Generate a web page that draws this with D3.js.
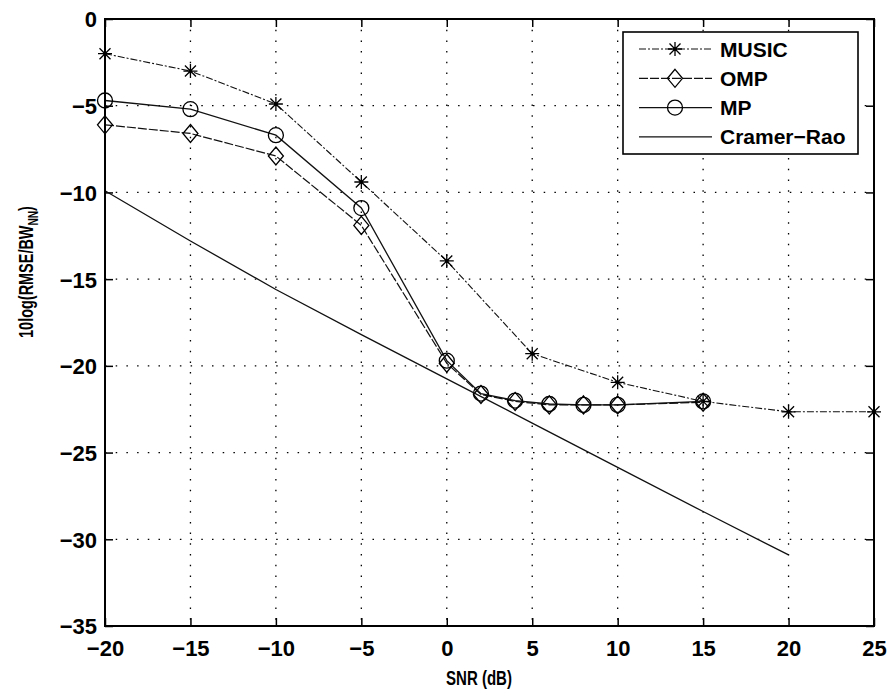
<!DOCTYPE html>
<html>
<head>
<meta charset="utf-8">
<script src="https://cdn.jsdelivr.net/npm/d3@7"></script>
<style>
  html, body { margin: 0; padding: 0; background: #fff; }
  svg text { font-family: "Liberation Sans", Arial, Helvetica, sans-serif; fill: #000; }
</style>
</head>
<body>
<svg id="chart" width="891" height="692"></svg>
<script>
// SNR sweep points (dB)
const snrMusic  = [-20, -15, -10, -5, 0, 5, 10, 15, 20, 25];
const snrSparse = [-20, -15, -10, -5, 0, 2, 4, 6, 8, 10, 15];
const snrBound  = [-20, -15, -10, -5, 0, 5, 10, 15, 20];

// 10log(RMSE/BW_NN) per estimator
const musicVals = [-2.0, -3.0, -4.9, -9.4, -13.95, -19.3, -20.95, -22.05, -22.65, -22.65];
const ompVals   = [-6.1, -6.6, -7.9, -11.9, -19.85, -21.65, -22.05, -22.25, -22.25, -22.25, -22.1];
const mpVals    = [-4.7, -5.2, -6.7, -10.9, -19.7, -21.6, -22.0, -22.2, -22.25, -22.25, -22.05];
const crbVals   = [-9.9, -12.8, -15.6, -18.2, -20.75, -23.3, -25.85, -28.4, -30.9];

const xTicks = [-20, -15, -10, -5, 0, 5, 10, 15, 20, 25];
const yTicks = [0, -5, -10, -15, -20, -25, -30, -35];
const legendNames = ["MUSIC", "OMP", "MP", "Cramer\u2212Rao"];

const svg = d3.select("#chart");
const L = 105, R = 874, T = 19, B = 626;

const x = d3.scaleLinear().domain([-20, 25]).range([L, R]);
const y = d3.scaleLinear().domain([-35, 0]).range([B, T]);

// dotted grid
const grid = svg.append("g");
xTicks.slice(1, -1).forEach(v => {
  grid.append("line").attr("x1", x(v)).attr("x2", x(v)).attr("y1", T).attr("y2", B)
    .attr("stroke", "#000").attr("stroke-width", 1.3).attr("stroke-dasharray", "1.5,9.2");
});
yTicks.slice(1, -1).forEach(v => {
  grid.append("line").attr("x1", L).attr("x2", R).attr("y1", y(v)).attr("y2", y(v))
    .attr("stroke", "#000").attr("stroke-width", 1.3).attr("stroke-dasharray", "1.5,9.2");
});

// axes with inward ticks, labels on bottom and left
const fmt = d => d < 0 ? "\u2212" + Math.abs(d) : String(d);
const axB = svg.append("g").attr("transform", `translate(0,${B})`)
  .call(d3.axisBottom(x).tickValues(xTicks).tickSize(-8).tickPadding(14).tickFormat(fmt));
const axL = svg.append("g").attr("transform", `translate(${L},0)`)
  .call(d3.axisLeft(y).tickValues(yTicks).tickSize(-8).tickPadding(8).tickFormat(fmt));
const axT = svg.append("g").attr("transform", `translate(0,${T})`)
  .call(d3.axisTop(x).tickValues(xTicks).tickSize(-8).tickFormat(""));
const axR = svg.append("g").attr("transform", `translate(${R},0)`)
  .call(d3.axisRight(y).tickValues(yTicks).tickSize(-8).tickFormat(""));
[axB, axL, axT, axR].forEach(a => {
  a.select(".domain").remove();
  a.selectAll(".tick line").attr("stroke", "#000").attr("stroke-width", 1.5);
  a.selectAll("text").attr("font-size", 22).attr("font-weight", "bold")
    .style("font-family", "'Liberation Sans', Arial, sans-serif");
});
axL.selectAll("text").attr("dy", "0.36em");

// series lines
const series = [
  { xs: snrMusic,  ys: musicVals, marker: "star",    dash: "7,2,2,2", width: 1.1 },
  { xs: snrSparse, ys: ompVals,   marker: "diamond", dash: "9,2",     width: 1.2 },
  { xs: snrSparse, ys: mpVals,    marker: "circle",  dash: null,      width: 1.3 },
  { xs: snrBound,  ys: crbVals,   marker: null,      dash: null,      width: 1.3 }
];

const line = d3.line().x(d => x(d[0])).y(d => y(d[1]));

function drawMarker(g, type, cx, cy) {
  if (type === "star") {
    const r = 7, r2 = 5.5;
    const p = `M${cx - r},${cy}H${cx + r}M${cx},${cy - r}V${cy + r}` +
      `M${cx - r2},${cy - r2}L${cx + r2},${cy + r2}M${cx - r2},${cy + r2}L${cx + r2},${cy - r2}`;
    g.append("path").attr("d", p).attr("stroke", "#000").attr("stroke-width", 1.3).attr("fill", "none");
    g.append("circle").attr("cx", cx).attr("cy", cy).attr("r", 1.8).attr("fill", "#000");
  } else if (type === "diamond") {
    const w = 7.5, h = 9;
    g.append("path").attr("d", `M${cx},${cy - h}L${cx + w},${cy}L${cx},${cy + h}L${cx - w},${cy}Z`)
      .attr("stroke", "#000").attr("stroke-width", 1.3).attr("fill", "none");
  } else if (type === "circle") {
    g.append("circle").attr("cx", cx).attr("cy", cy).attr("r", 7.5)
      .attr("stroke", "#000").attr("stroke-width", 1.3).attr("fill", "none");
  }
}

const plot = svg.append("g");
series.forEach(s => {
  const pts = s.xs.map((v, i) => [v, s.ys[i]]);
  plot.append("path").attr("d", line(pts)).attr("fill", "none")
    .attr("stroke", "#111").attr("stroke-width", s.width)
    .attr("stroke-dasharray", s.dash);
  if (s.marker) pts.forEach(p => drawMarker(plot, s.marker, x(p[0]), y(p[1])));
});

// axes box
svg.append("rect").attr("x", L).attr("y", T).attr("width", R - L).attr("height", B - T)
  .attr("fill", "none").attr("stroke", "#000").attr("stroke-width", 2);

// axis titles, set in a condensed width
function condense(sel, targetLen) {
  const w = sel.node().getBBox().width;
  return w > 0 ? targetLen / w : 1;
}
const xl = svg.append("g");
const xlt = xl.append("text").attr("text-anchor", "middle")
  .attr("font-size", 21).attr("font-weight", "bold").text("SNR (dB)");
xl.attr("transform", `translate(479,685) scale(${condense(xlt, 66)},1)`);

const ylg = svg.append("g");
const yl = ylg.append("text").attr("text-anchor", "middle")
  .attr("font-size", 20).attr("font-weight", "bold");
yl.append("tspan").text("10log(RMSE/BW");
yl.append("tspan").attr("font-size", 14).attr("dy", 5).text("NN");
yl.append("tspan").attr("dy", -5).text(")");
ylg.attr("transform", `translate(33,272) rotate(-90) scale(${condense(yl, 132)},1)`);

// legend
const lg = svg.append("g");
lg.append("rect").attr("x", 623).attr("y", 32).attr("width", 235).attr("height", 122)
  .attr("fill", "#fff").attr("stroke", "#000").attr("stroke-width", 1.6);
legendNames.forEach((name, i) => {
  const ly = 49 + i * 29.3;
  const s = series[i];
  lg.append("line").attr("x1", 639).attr("x2", 712).attr("y1", ly).attr("y2", ly)
    .attr("stroke", "#111").attr("stroke-width", s.width).attr("stroke-dasharray", s.dash);
  if (s.marker) drawMarker(lg, s.marker, 675, ly);
  lg.append("text").attr("x", 720).attr("y", ly).attr("dy", "0.36em")
    .attr("font-size", 21).attr("font-weight", "bold").text(name);
});
</script>
</body>
</html>
